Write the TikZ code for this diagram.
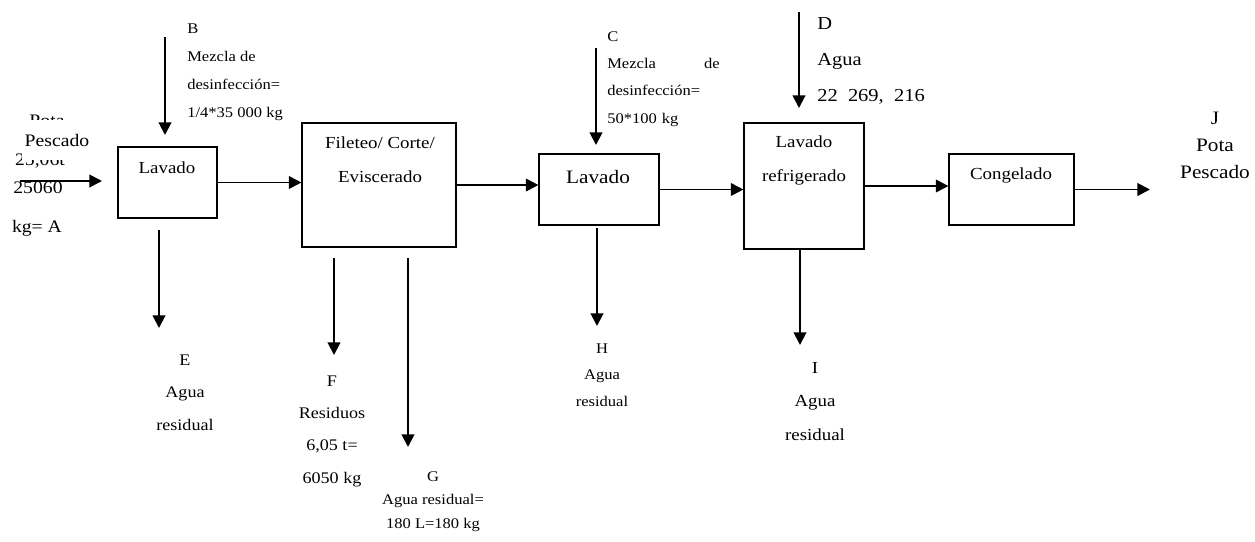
\documentclass[tikz,border=0pt]{standalone}
\usepackage{fontspec}
\setmainfont{Liberation Serif}[FakeStretch=1.12]
\usetikzlibrary{arrows.meta,calc}

\begin{document}
\begin{tikzpicture}[x=0.025cm,y=-0.025cm,
  caja/.style={draw,line width=0.8pt,inner sep=0pt},
  flecha/.style={line width=1.4pt,-{Triangle[width=9pt,length=9pt]}},
  etq/.style={inner sep=0pt,align=left}]
  \useasboundingbox (0,0) rectangle (1255,541);

  % Cajas del proceso
  \node[caja,minimum width=2.475cm,minimum height=1.775cm] (lav1) at (167.5,182.5){};
  \node[caja,minimum width=3.85cm,minimum height=3.1cm] (fil) at (379,185){};
  \node[caja,minimum width=3.0cm,minimum height=1.775cm] (lav2) at (599,189.5){};
  \node[caja,minimum width=3.0cm,minimum height=3.15cm] (lr) at (804,186){};
  \node[caja,minimum width=3.125cm,minimum height=1.775cm] (cong) at (1011.5,189.5){};

  \node[font=\fontsize{12}{12}\selectfont] (tLav1) at (167,168){Lavado};
  \node[font=\fontsize{12}{24}\selectfont,align=center] (tFil) at (380,160){Fileteo/ Corte/\\Eviscerado};
  \node[font=\fontsize{13.5}{14}\selectfont] (tLav2) at (598,177){Lavado};
  \node[font=\fontsize{12}{24}\selectfont,align=center] (tLr) at (804,160.5){Lavado\\refrigerado};
  \node[font=\fontsize{12}{12}\selectfont] (tCong) at (1011,175){Congelado};

  % Entrada A (texto superpuesto)
  \node[font=\fontsize{12.5}{13}\selectfont] (aPota) at (47,121){Pota};
  \node[font=\fontsize{12.5}{13}\selectfont] (aTon) at (40,161){25,06t};
  \node[font=\fontsize{12.5}{13}\selectfont,fill=white,inner xsep=2pt,inner ysep=10pt] (aPes) at (57,140){Pescado};
  \node[font=\fontsize{12.5}{13}\selectfont] (aKg) at (38,188){25060};
  \node[font=\fontsize{12.5}{13}\selectfont] (aA) at (37,228){kg= A};
  \coordinate (aIni) at (20,181);
  \coordinate (aFin) at (102,181);
  \draw[flecha] (aIni) -- (aFin);

  % Flujo principal
  \draw[flecha] (lav1.east) -- (lav1.east -| fil.west);
  \draw[flecha] (fil.east) -- (fil.east -| lav2.west);
  \draw[flecha] (lav2.east) -- (lav2.east -| lr.west);
  \draw[flecha] (lr.east) -- (lr.east -| cong.west);
  \coordinate (jFin) at (1150,189.5);
  \draw[flecha] (cong.east) -- (jFin);

  % Entradas y salidas verticales
  \foreach \n/\x/\ya/\yb in {B/165/37/135,C/596/48/145,D/799/12/108,E/159/230/328,
      F/334/258/355,G/408/258/447,H/597/228/326,I/800/250/345}{
    \coordinate (\n0) at (\x,\ya);
    \coordinate (\n1) at (\x,\yb);
    \draw[flecha] (\n0) -- (\n1);
  }

  % Etiquetas
  \node[etq,anchor=west,font=\fontsize{10.5}{20}\selectfont] (lB) at (187,72.5){B\\Mezcla de\\desinfección=\\1/4*35 000 kg};
  \node[etq,anchor=west,font=\fontsize{10.5}{19.4}\selectfont,text width=80pt] (lC) at (607,79){C\\Mezcla\hfill de\\desinfección=\\50*100 kg};
  \node[etq,anchor=west,font=\fontsize{13}{25.6}\selectfont] (lD) at (817,61){D\\Agua\\22~~269,~~216};
  \node[etq,align=center,font=\fontsize{11.5}{23}\selectfont] (lE) at (185,392.5){E\\Agua\\residual};
  \node[etq,align=center,font=\fontsize{11.5}{23}\selectfont] (lF) at (332,431){F\\Residuos\\6,05 t=\\6050 kg};
  \node[etq,align=center,font=\fontsize{10.5}{16.7}\selectfont] (lG) at (433,501.5){G\\Agua residual=\\180 L=180 kg};
  \node[etq,align=center,font=\fontsize{10.5}{19}\selectfont] (lH) at (602,375){H\\Agua\\residual};
  \node[etq,align=center,font=\fontsize{12}{24}\selectfont] (lI) at (815,401.5){I\\Agua\\residual};
  \node[etq,align=center,font=\fontsize{13.5}{19.3}\selectfont] (lJ) at (1215,145.5){J\\Pota\\Pescado};
\end{tikzpicture}
\end{document}
